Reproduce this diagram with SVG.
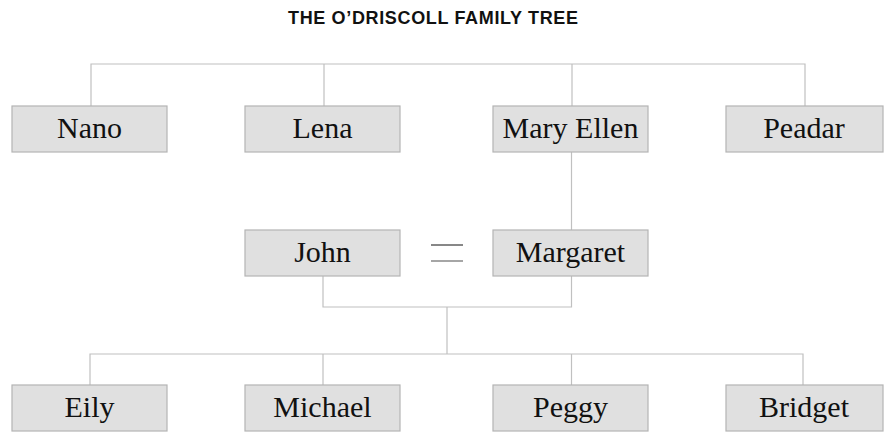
<svg xmlns="http://www.w3.org/2000/svg" width="885" height="433" viewBox="0 0 885 433">
<style>
.box{fill:#e0e0e0;stroke:#b4b4b4;stroke-width:1.2}
.lbl{font-family:"Liberation Serif","DejaVu Serif",serif;font-size:30px;fill:#111;text-anchor:middle}
.ln{fill:none;stroke:#c0c0c0;stroke-width:1.2}
.title{font-family:"Liberation Sans",Arial,sans-serif;font-weight:bold;font-size:18px;fill:#111;text-anchor:middle}
</style>
<rect width="885" height="433" fill="#fff"/>
<text class="title" x="433" y="24" textLength="290" lengthAdjust="spacing">THE O’DRISCOLL FAMILY TREE</text>
<g id="connectors">
<path class="ln" d="M91,106V64H805V106M324,64V106M572,64V106"/>
<path class="ln" d="M571.5,152V230"/>
<path class="ln" d="M323,276V307H571.5V276M447,307V354"/>
<path class="ln" d="M90,385V354H803V385M323,354V385M571.5,354V385"/>
<g id="marriage">
<line x1="431" y1="245" x2="463" y2="245" stroke="#111" stroke-width="1"/>
<line x1="431" y1="261" x2="463" y2="261" stroke="#888" stroke-width="1.5"/>
</g>
</g>
<g id="nano"><rect class="box" x="12" y="106" width="155" height="46"/><text class="lbl" x="89.5" y="138">Nano</text></g>
<g id="lena"><rect class="box" x="245" y="106" width="155" height="46"/><text class="lbl" x="322.5" y="138">Lena</text></g>
<g id="maryellen"><rect class="box" x="493" y="106" width="155" height="46"/><text class="lbl" x="570.5" y="138">Mary Ellen</text></g>
<g id="peadar"><rect class="box" x="726" y="106" width="157" height="46"/><text class="lbl" x="804" y="138">Peadar</text></g>
<g id="john"><rect class="box" x="245" y="230" width="155" height="46"/><text class="lbl" x="322.5" y="262">John</text></g>
<g id="margaret"><rect class="box" x="493" y="230" width="155" height="46"/><text class="lbl" x="570.5" y="262">Margaret</text></g>
<g id="eily"><rect class="box" x="12" y="385" width="155" height="46"/><text class="lbl" x="89.5" y="417">Eily</text></g>
<g id="michael"><rect class="box" x="245" y="385" width="155" height="46"/><text class="lbl" x="322.5" y="417">Michael</text></g>
<g id="peggy"><rect class="box" x="493" y="385" width="155" height="46"/><text class="lbl" x="570.5" y="417">Peggy</text></g>
<g id="bridget"><rect class="box" x="726" y="385" width="157" height="46"/><text class="lbl" x="804" y="417">Bridget</text></g>
</svg>
